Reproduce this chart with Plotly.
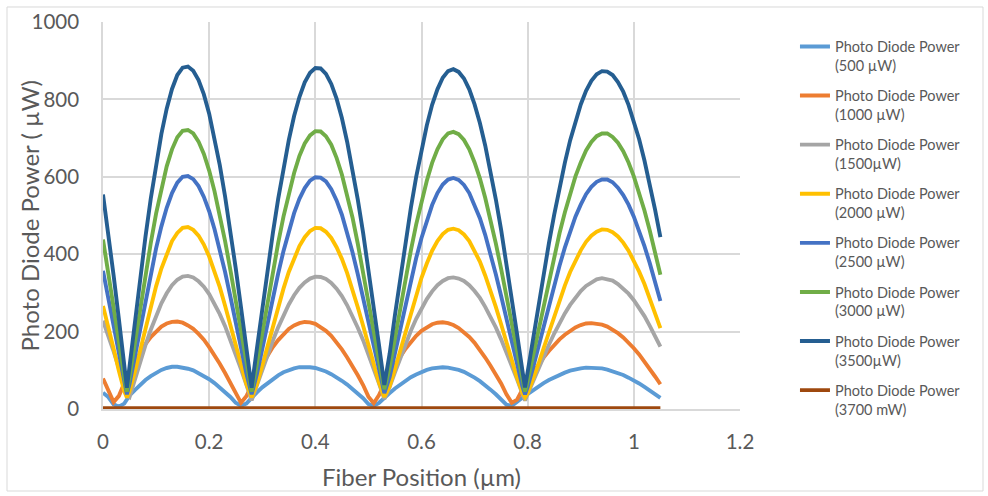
import plotly.graph_objects as go

x_pos = [0.00, 0.01, 0.02, 0.03, 0.04, 0.045,
         0.05, 0.06, 0.07, 0.08, 0.09, 0.10, 0.11, 0.12, 0.13, 0.14,
         0.15, 0.16, 0.17, 0.18, 0.19, 0.20, 0.21, 0.22, 0.23, 0.24,
         0.25, 0.26, 0.27, 0.28, 0.29, 0.30, 0.31, 0.32, 0.33, 0.34,
         0.35, 0.36, 0.37, 0.38, 0.39, 0.40, 0.41, 0.42, 0.43, 0.44,
         0.45, 0.46, 0.47, 0.48, 0.49, 0.50, 0.51, 0.52, 0.53, 0.54,
         0.55, 0.56, 0.57, 0.58, 0.59, 0.60, 0.61, 0.62, 0.63, 0.64,
         0.65, 0.66, 0.67, 0.68, 0.69, 0.70, 0.71, 0.72, 0.73, 0.74,
         0.75, 0.76, 0.77, 0.78, 0.79, 0.795,
         0.80, 0.81, 0.82, 0.83, 0.84, 0.85, 0.86, 0.87, 0.88, 0.89,
         0.90, 0.91, 0.92, 0.93, 0.94, 0.95, 0.96, 0.97, 0.98, 0.99,
         1.00, 1.01, 1.02, 1.03, 1.04, 1.05]

p500 = [42, 31, 12, 6, 14, 24,
        35, 49, 63, 75, 85, 94, 101, 106, 109, 109,
        107, 104, 100, 93, 86, 77, 67, 56, 44, 31,
        16, 8, 14, 30, 43, 56, 67, 78, 87, 95,
        101, 105, 108, 109, 108, 106, 102, 97, 90, 82,
        73, 63, 52, 40, 28, 13, 8, 16, 30, 41,
        53, 63, 73, 82, 89, 96, 101, 105, 107, 108,
        107, 105, 101, 96, 89, 81, 72, 62, 50, 38,
        26, 11, 8, 17, 29, 34,
        39, 49, 58, 67, 75, 82, 89, 94, 99, 103,
        105, 107, 107, 106, 105, 102, 98, 93, 88, 81,
        74, 66, 57, 48, 39, 29]

p1000 = [79, 46, 18, 34, 69, 83,
         97, 122, 146, 168, 186, 201, 213, 221, 225, 226,
         223, 216, 207, 194, 179, 160, 140, 117, 93, 68,
         38, 16, 33, 64, 90, 115, 139, 160, 178, 194,
         207, 216, 222, 225, 224, 220, 212, 202, 189, 172,
         154, 133, 111, 87, 62, 32, 15, 36, 66, 90,
         114, 135, 156, 173, 189, 202, 212, 219, 223, 224,
         222, 217, 209, 199, 186, 171, 153, 133, 112, 90,
         66, 38, 16, 24, 52, 63,
         73, 94, 114, 133, 150, 166, 180, 192, 203, 211,
         217, 221, 222, 221, 218, 213, 205, 196, 185, 172,
         157, 141, 123, 104, 84, 64]

p1500 = [228, 190, 149, 105, 59, 36,
         31, 77, 122, 165, 205, 241, 273, 299, 320, 334,
         342, 344, 340, 330, 316, 297, 273, 245, 214, 179,
         142, 103, 63, 22, 62, 102, 141, 177, 211, 242,
         270, 294, 313, 327, 337, 342, 341, 336, 326, 311,
         292, 268, 241, 210, 178, 142, 104, 66, 26, 57,
         95, 133, 168, 202, 233, 260, 284, 304, 320, 331,
         338, 340, 337, 331, 320, 305, 287, 264, 239, 211,
         180, 147, 112, 77, 40, 22,
         39, 72, 104, 136, 166, 195, 222, 247, 269, 288,
         305, 318, 328, 335, 338, 336, 332, 323, 312, 298,
         281, 262, 240, 215, 189, 161]

p2000 = [266, 214, 156, 98, 46, 30,
         46, 96, 152, 209, 265, 317, 363, 402, 434, 455,
         468, 470, 463, 448, 425, 394, 357, 315, 267, 217,
         165, 113, 65, 30, 64, 112, 163, 214, 264, 311,
         354, 391, 421, 444, 460, 468, 467, 458, 442, 418,
         388, 351, 309, 263, 215, 165, 115, 68, 31, 59,
         104, 152, 202, 251, 297, 339, 376, 409, 434, 452,
         463, 466, 462, 451, 434, 410, 381, 345, 306, 264,
         219, 172, 125, 81, 42, 30,
         41, 75, 115, 157, 199, 241, 282, 319, 354, 384,
         410, 432, 448, 458, 464, 463, 457, 446, 430, 409,
         384, 355, 323, 287, 248, 209]

p2500 = [357, 286, 212, 137, 65, 38,
         65, 134, 207, 280, 350, 415, 472, 520, 558, 585,
         600, 602, 594, 576, 548, 511, 465, 412, 354, 290,
         224, 156, 92, 38, 91, 155, 222, 287, 350, 408,
         460, 506, 543, 571, 590, 599, 598, 588, 568, 539,
         502, 456, 405, 348, 287, 223, 158, 96, 41, 83,
         144, 208, 271, 332, 390, 442, 488, 527, 558, 580,
         593, 597, 592, 579, 558, 528, 493, 450, 401, 348,
         292, 233, 173, 113, 59, 38,
         57, 106, 159, 213, 268, 320, 370, 417, 459, 497,
         528, 555, 574, 587, 593, 593, 586, 572, 553, 528,
         497, 462, 421, 377, 329, 279]

p3000 = [438, 354, 265, 174, 84, 45,
         83, 171, 260, 347, 429, 505, 571, 627, 671, 702,
         719, 721, 712, 691, 659, 616, 563, 502, 434, 359,
         280, 199, 118, 45, 117, 197, 277, 355, 429, 497,
         558, 610, 654, 686, 707, 718, 717, 705, 683, 649,
         606, 553, 495, 427, 356, 279, 201, 124, 51, 107,
         184, 261, 337, 410, 477, 537, 590, 636, 671, 697,
         712, 716, 710, 695, 671, 637, 596, 546, 490, 428,
         362, 291, 218, 146, 76, 45,
         73, 137, 202, 268, 333, 395, 454, 508, 558, 601,
         637, 668, 690, 705, 712, 712, 703, 688, 666, 637,
         601, 560, 513, 461, 406, 347]

p3500 = [554, 453, 345, 231, 112, 55,
         110, 226, 339, 445, 544, 633, 711, 776, 827, 863,
         882, 885, 874, 850, 813, 763, 702, 630, 549, 460,
         364, 262, 158, 55, 157, 260, 360, 455, 543, 624,
         695, 757, 806, 844, 869, 881, 880, 866, 840, 802,
         752, 690, 621, 541, 455, 362, 265, 165, 62, 143,
         243, 339, 432, 520, 600, 671, 733, 786, 826, 856,
         873, 878, 871, 854, 826, 787, 739, 681, 615, 542,
         463, 377, 287, 194, 100, 56,
         96, 182, 266, 348, 428, 502, 572, 636, 694, 745,
         787, 822, 848, 865, 873, 872, 863, 845, 820, 786,
         745, 697, 642, 581, 515, 444]

p3700 = [2, 2, 1, 1, 1, 1,
         1, 2, 2, 2, 3, 3, 3, 3, 3, 3,
         3, 3, 3, 3, 3, 3, 2, 2, 2, 2,
         1, 1, 1, 1, 1, 2, 2, 2, 2, 3,
         3, 3, 3, 3, 3, 3, 3, 3, 3, 3,
         2, 2, 2, 2, 1, 1, 1, 1, 1, 2,
         2, 2, 2, 3, 3, 3, 3, 3, 3, 3,
         3, 3, 3, 3, 3, 3, 2, 2, 2, 2,
         2, 1, 1, 1, 1, 1,
         1, 2, 2, 2, 2, 3, 3, 3, 3, 3,
         3, 3, 3, 3, 3, 3, 3, 3, 3, 2,
         2, 2, 2, 2, 2, 2]

series_names = ["Photo Diode Power<br>(500 µW)",
                "Photo Diode Power<br>(1000 µW)",
                "Photo Diode Power<br>(1500µW)",
                "Photo Diode Power<br>(2000 µW)",
                "Photo Diode Power<br>(2500 µW)",
                "Photo Diode Power<br>(3000 µW)",
                "Photo Diode Power<br>(3500µW)",
                "Photo Diode Power<br>(3700 mW)"]
series_values = [p500, p1000, p1500, p2000, p2500, p3000, p3500, p3700]
series_colors = ["#5B9BD5", "#ED7D31", "#A5A5A5", "#FFC000",
                 "#4472C4", "#70AD47", "#255E91", "#9E480E"]

x_ticks = [0, 0.2, 0.4, 0.6, 0.8, 1, 1.2]
x_tick_text = ["0", "0.2", "0.4", "0.6", "0.8", "1", "1.2"]
y_ticks = [0, 200, 400, 600, 800, 1000]
y_tick_text = ["0", "200", "400", "600", "800", "1000"]
x_title = "Fiber Position (µm)"
y_title = "Photo Diode Power ( µW)"

FONT = "Lato, Carlito, Calibri, sans-serif"
TXT = "#595959"
GRID = "#d9d9d9"

fig = go.Figure()
for name, vals, col in zip(series_names, series_values, series_colors):
    fig.add_trace(go.Scatter(
        x=x_pos, y=vals, name=name, mode="lines", legendgroup=name,
        line=dict(color=col, width=3.9, shape="linear"),
    ))

fig.update_layout(
    width=988, height=496,
    margin=dict(l=103, r=248, t=22, b=87, autoexpand=False),
    paper_bgcolor="white", plot_bgcolor="white",
    font=dict(family=FONT, color=TXT),
    showlegend=True,
    legend=dict(
        x=1.0863, y=0.978, xanchor="left", yanchor="top",
        valign="top", traceorder="grouped", tracegroupgap=8.4,
        maxheight=1000,
        font=dict(family=FONT, size=14.5, color=TXT),
        bgcolor="rgba(0,0,0,0)",
    ),
    xaxis=dict(
        range=[0, 1.2], tickmode="array", tickvals=x_ticks, ticktext=x_tick_text,
        showgrid=True, gridcolor=GRID, gridwidth=1.5,
        zeroline=False, showline=True, linecolor=GRID, linewidth=1.5,
        ticks="outside", ticklen=14, tickcolor="rgba(0,0,0,0)",
        tickfont=dict(family=FONT, size=20.5, color=TXT),
        automargin=False,
    ),
    yaxis=dict(
        range=[0, 1000], tickmode="array", tickvals=y_ticks, ticktext=y_tick_text,
        showgrid=True, gridcolor=GRID, gridwidth=1.5,
        zeroline=False, showline=True, linecolor=GRID, linewidth=1.5,
        ticks="outside", ticklen=18, tickcolor="rgba(0,0,0,0)",
        tickfont=dict(family=FONT, size=20.5, color=TXT),
        automargin=False,
    ),
    annotations=[
        dict(text=x_title, xref="paper", yref="paper", x=0.5, y=-0.1757,
             xanchor="center", yanchor="middle", showarrow=False,
             font=dict(family=FONT, size=24, color=TXT)),
        dict(text=y_title, xref="paper", yref="paper", x=-0.1146, y=0.5,
             xanchor="center", yanchor="middle", showarrow=False, textangle=-90,
             font=dict(family=FONT, size=24, color=TXT)),
    ],
    shapes=[dict(type="rect", xref="paper", yref="paper",
                 x0=-0.1507, x1=1.3815, y0=-0.2119, y1=1.0388,
                 line=dict(color=GRID, width=1), fillcolor="rgba(0,0,0,0)", layer="below")],
)

fig.write_html("out.html", config={"displayModeBar": False},
               post_script="document.body.style.margin='0px';")
